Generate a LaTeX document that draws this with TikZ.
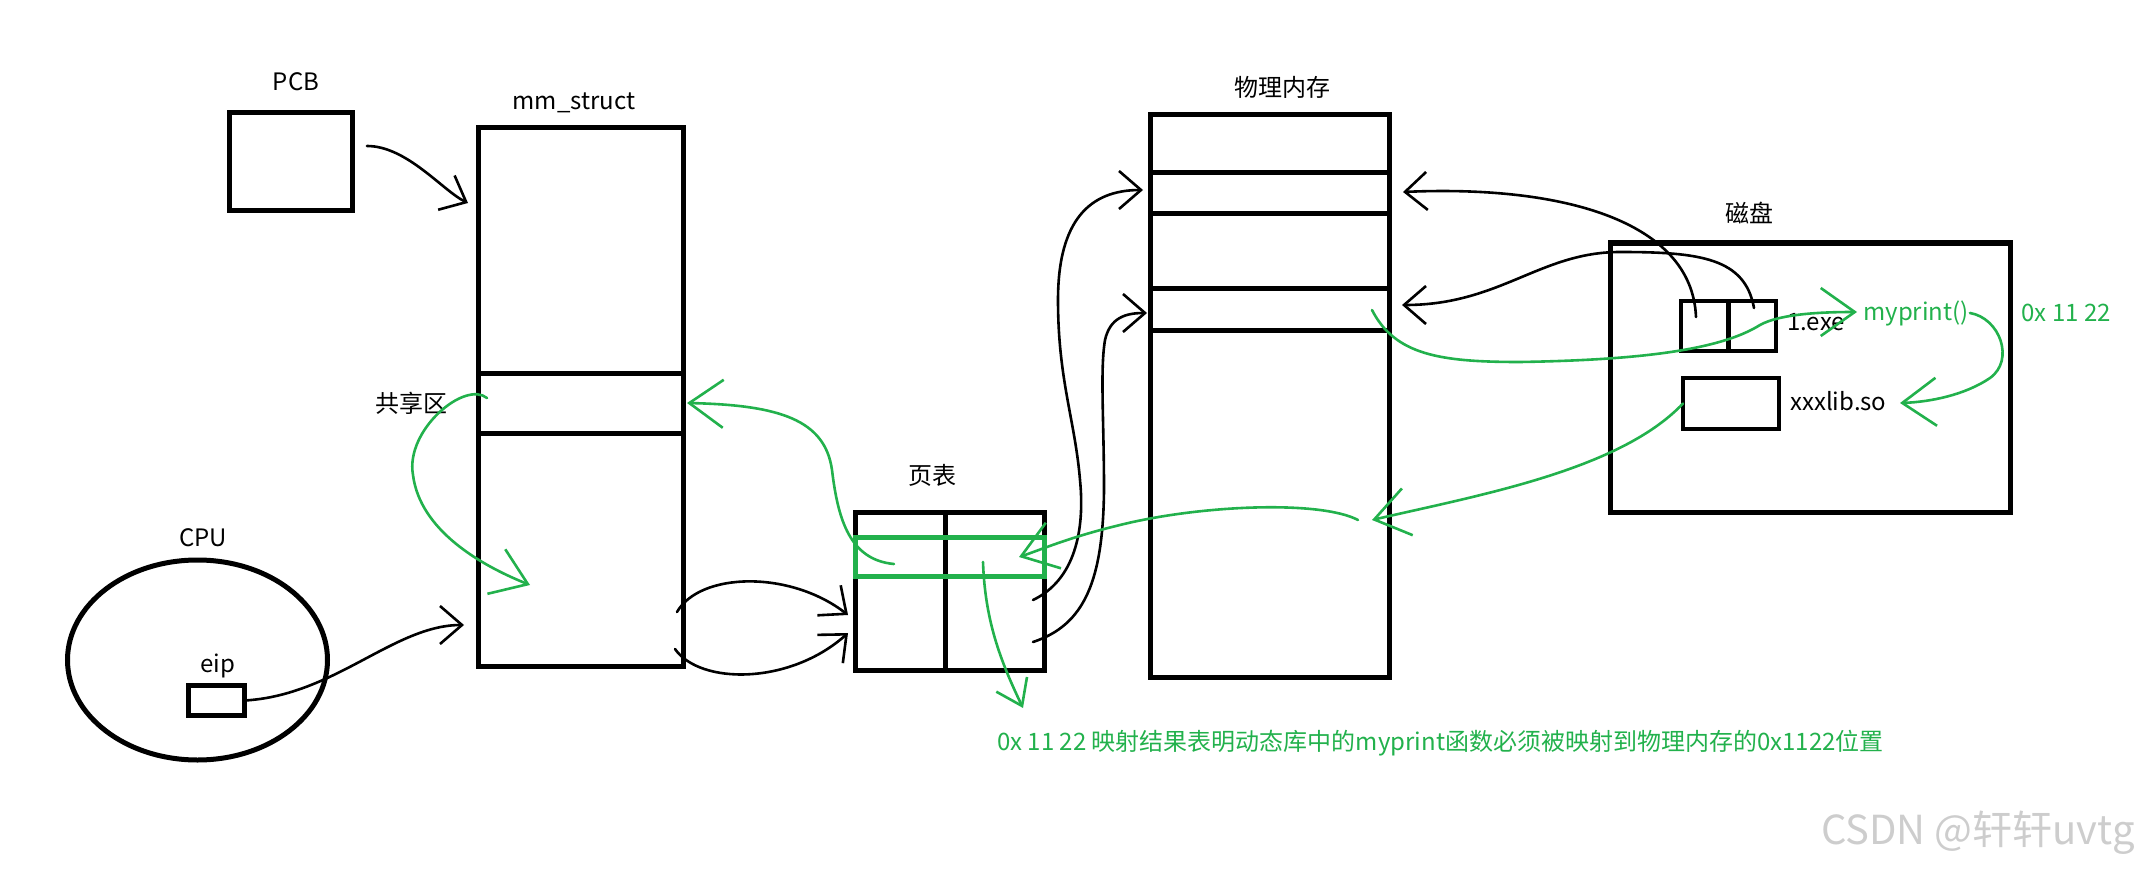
\documentclass[tikz,border=0pt]{standalone}
\usepackage{fontspec}
\setmainfont{Noto Sans CJK SC}
\usepackage{tikz}
\usetikzlibrary{arrows.meta,positioning,shapes.geometric}
\definecolor{paintgreen}{RGB}{34,177,76}
\definecolor{markgray}{RGB}{205,205,205}
\tikzset{
  box/.style={draw=black, line width=5pt, inner sep=0pt, outer sep=0pt},
  lbl/.style={font=\fontsize{24}{28}\selectfont, inner sep=1pt},
  glbl/.style={lbl, text=paintgreen},
  conn/.style={line width=2.6pt, line cap=round, -{Straight Barb[length=22pt,width=38pt]}},
  gconn/.style={conn, draw=paintgreen, -{Straight Barb[length=34pt,width=48pt]}},
  gline/.style={draw=paintgreen, line width=5pt}
}
\begin{document}
\begin{tikzpicture}[x=1pt, y=-1pt]
\useasboundingbox (0,0) rectangle (2139,869);
% process side
\node[box, minimum width=123pt, minimum height=98pt] (pcb) at (290.5,162) {};
\node[lbl] (pcbname) at (296,82) {PCB};
\node[box, minimum width=205pt, minimum height=538pt] (mm) at (580.5,397) {};
\node[lbl] (mmname) at (574,103) {mm\_struct};
\draw[line width=5pt] (mm.west |- 0,373) -- (mm.east |- 0,373);
\draw[line width=5pt] (mm.west |- 0,433) -- (mm.east |- 0,433);
\node[lbl] (shname) at (411,403) {共享区};
\node[box, ellipse, minimum width=260pt, minimum height=200pt] (cpu) at (197.5,660) {};
\node[lbl] (cpuname) at (203,538) {CPU};
\node[box, minimum width=56pt, minimum height=30pt] (eip) at (216.5,700.5) {};
\node[lbl] (eipname) at (218,666) {eip};
% page table
\node[box, minimum width=189pt, minimum height=158pt] (pt) at (949.5,591) {};
\node[lbl] (ptname) at (932,475) {页表};
\draw[line width=5pt] (pt.north -| 945,0) -- (pt.south -| 945,0);
\draw[gline] (pt.west |- 0,537) rectangle (pt.east |- 0,576);
% physical memory
\node[box, minimum width=239pt, minimum height=562pt] (mem) at (1269.5,396) {};
\node[lbl] (memname) at (1282,87) {物理内存};
\foreach \y in {173,214,288,330}
  \draw[line width=5pt] (mem.west |- 0,\y) -- (mem.east |- 0,\y);
% disk
\node[box, minimum width=400pt, minimum height=269pt] (disk) at (1810,377.5) {};
\node[lbl] (diskname) at (1749,213) {磁盘};
\node[box, line width=4.5pt, minimum width=95pt, minimum height=50pt] (exe) at (1728.5,326) {};
\draw[line width=4.5pt] (exe.north) -- (exe.south);
\node[lbl, anchor=west] (exename) at (1786,322) {1.exe};
\node[box, line width=4.5pt, minimum width=96pt, minimum height=51pt] (lib) at (1731,403.5) {};
\node[lbl, anchor=west] (libname) at (1789,401) {xxxlib.so};
\node[glbl] (mp) at (1916,313) {myprint()};
\node[glbl] (addr) at (2066,313) {0x 11 22};
% black connectors
\coordinate (pcbout) at (367,146);
\coordinate (mmtop) at (468,203);
\draw[conn] (pcbout) .. controls +(40,0) and +(-25,-12) .. (mmtop);
\coordinate (mmmid) at (464,625);
\draw[conn] (eip.east) .. controls +(90,-5) and +(-70,0) .. (mmmid);
\coordinate (mmout1) at (677,612);
\coordinate (mmout2) at (675,649);
\coordinate (ptin1) at (848,615);
\coordinate (ptin2) at (848,633);
\draw[conn] (mmout1) .. controls (700,572) and (790,570) .. (ptin1);
\draw[conn] (mmout2) .. controls (700,685) and (790,685) .. (ptin2);
\coordinate (ptout1) at (1033,600);
\coordinate (ptout2) at (1033,642);
\coordinate (memin1) at (1143,190);
\coordinate (memin2) at (1147,313);
\draw[conn] (ptout1) .. controls (1075,580) and (1085,530) .. (1080,480) .. controls (1075,420) and (1058,380) .. (1058,300) .. controls (1058,220) and (1090,190) .. (memin1);
\draw[conn] (ptout2) .. controls (1085,625) and (1103,580) .. (1104,490) .. controls (1104,420) and (1100,370) .. (1105,340) .. controls (1110,318) and (1125,313) .. (memin2);
\coordinate (exeleft) at (1696,317);
\coordinate (exeright) at (1754,308);
\coordinate (memr1) at (1403,192);
\coordinate (memr2) at (1402,305);
\draw[conn] (exeleft) .. controls (1692,220) and (1560,185) .. (memr1);
\draw[conn] (exeright) .. controls (1745,258) and (1700,252) .. (1620,252) .. controls (1540,252) and (1500,305) .. (memr2);
% green connectors
\coordinate (shin) at (487,398);
\coordinate (shout) at (530,585);
\draw[gconn] (shin) .. controls (465,380) and (405,430) .. (413,475) .. controls (420,530) and (480,565) .. (shout);
\coordinate (ptrow) at (894,564);
\coordinate (mmsh) at (687,403);
\draw[gconn] (ptrow) .. controls (850,560) and (838,520) .. (832,470) .. controls (825,420) and (780,405) .. (mmsh);
\coordinate (memlib) at (1372,520);
\draw[gconn] (lib.west) .. controls (1620,470) and (1480,495) .. (memlib);
\coordinate (memsrc) at (1358,520);
\coordinate (ptrow2) at (1019,557);
\draw[gconn] (memsrc) .. controls (1320,500) and (1200,505) .. (1120,525) .. controls (1070,537) and (1040,550) .. (ptrow2);
\coordinate (memexe) at (1372,310);
\coordinate (mptip) at (1857,312);
\draw[gconn] (memexe) .. controls (1395,355) and (1440,362) .. (1520,362) .. controls (1640,360) and (1720,350) .. (1760,325) .. controls (1780,314) and (1820,312) .. (mptip);
\coordinate (libtip) at (1900,403);
\draw[gconn] (mp.east) .. controls +(30,5) and (2015,360) .. (1990,378) .. controls (1965,395) and (1930,402) .. (libtip);
\coordinate (ptcell) at (983,562);
\coordinate (notetop) at (1023,708);
\draw[gconn, -{Straight Barb[length=24pt,width=34pt]}] (ptcell) .. controls (985,620) and (1000,660) .. (notetop);
\node[glbl, anchor=west] (note) at (996,743) {0x 11 22 映射结果表明动态库中的myprint函数必须被映射到物理内存的0x1122位置};
\node[font=\fontsize{40}{44}\selectfont, text=markgray] (mark) at (1978,833) {CSDN @轩轩uvtg};
\end{tikzpicture}
\end{document}
